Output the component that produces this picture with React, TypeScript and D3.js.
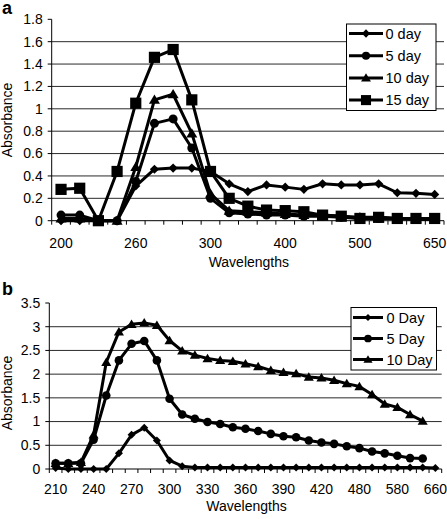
import React from 'react';
import * as d3 from 'd3';

// ---------- Panel a data ----------
const categoriesA = [200, 215, 230, 245, 260, 270, 280, 290, 300, 325, 350, 375, 400, 425, 450, 475, 500, 540, 580, 620, 650];
const day0A = [0.0, 0.0, 0.0, 0.0, 0.31, 0.46, 0.47, 0.47, 0.44, 0.33, 0.26, 0.32, 0.3, 0.28, 0.33, 0.32, 0.32, 0.33, 0.25, 0.245, 0.235];
const day5A = [0.05, 0.05, 0.0, 0.0, 0.35, 0.87, 0.91, 0.65, 0.2, 0.07, 0.06, 0.05, 0.05, 0.04, 0.04, 0.03, 0.02, 0.02, 0.02, 0.01, 0.01];
const day10A = [0.02, 0.02, 0.0, 0.0, 0.48, 1.08, 1.13, 0.78, 0.24, 0.09, 0.08, 0.07, 0.06, 0.05, 0.05, 0.04, 0.03, 0.03, 0.02, 0.02, 0.02];
const day15A = [0.28, 0.29, 0.0, 0.44, 1.05, 1.46, 1.53, 1.08, 0.44, 0.2, 0.13, 0.095, 0.09, 0.08, 0.05, 0.04, 0.02, 0.03, 0.02, 0.02, 0.02];
const namesA = ['0 day', '5 day', '10 day', '15 day'];
const yTicksA = [0, 0.2, 0.4, 0.6, 0.8, 1, 1.2, 1.4, 1.6, 1.8];

// ---------- Panel b data ----------
const categoriesB = [210, 220, 230, 240, 250, 260, 270, 280, 290, 300, 310, 320, 330, 340, 350, 360, 370, 380, 390, 400, 410, 420, 440, 460, 480, 520, 550, 580, 610, 640, 660];
const day0B = [0.02, 0.0, 0.0, 0.0, 0.0, 0.33, 0.72, 0.87, 0.6, 0.18, 0.06, 0.03, 0.03, 0.03, 0.03, 0.03, 0.03, 0.03, 0.03, 0.03, 0.03, 0.03, 0.03, 0.03, 0.03, 0.03, 0.03, 0.03, 0.03, 0.03, 0.02];
const day5B = [0.12, 0.12, 0.12, 0.62, 1.55, 2.29, 2.64, 2.7, 2.29, 1.48, 1.15, 1.06, 0.99, 0.95, 0.88, 0.85, 0.8, 0.74, 0.69, 0.67, 0.6, 0.56, 0.53, 0.48, 0.44, 0.37, 0.33, 0.28, 0.23, 0.22];
const day10B = [0.12, 0.12, 0.14, 0.72, 2.25, 2.89, 3.05, 3.08, 3.03, 2.71, 2.49, 2.4, 2.33, 2.29, 2.27, 2.22, 2.16, 2.08, 2.04, 2.01, 1.94, 1.92, 1.87, 1.8, 1.74, 1.57, 1.37, 1.3, 1.15, 1.01];
const namesB = ['0 Day', '5 Day', '10 Day'];
const yTicksB = [0, 0.5, 1, 1.5, 2, 2.5, 3, 3.5];

const FONT = '"Liberation Sans", Arial, Helvetica, sans-serif';

type Marker = 'diamond' | 'circle' | 'triangle' | 'square';

function markerPath(type: Marker, r: number): string {
  if (type === 'diamond') return `M0,${-r}L${r},0L0,${r}L${-r},0Z`;
  if (type === 'square') return `M${-r},${-r}H${r}V${r}H${-r}Z`;
  if (type === 'triangle') return `M0,${-r * 1.05}L${r * 1.1},${r * 0.8}L${-r * 1.1},${r * 0.8}Z`;
  return d3.symbol().type(d3.symbolCircle).size(Math.PI * r * r)()!;
}

interface PanelProps {
  letter: string;
  letterY: number;
  left: number;
  right: number;
  top: number;
  bottom: number;
  yTicks: number[];
  categories: number[];
  labelEvery: number;
  series: number[][];
  names: string[];
  markers: Marker[];
  markerR: Record<Marker, number>;
  xLabelDy: number;
  titleY: number;
  absY: number;
  legend: { x0: number; x1: number; y0: number; y1: number; rowY0: number; rowDy: number; lineX0: number; lineX1: number; textX: number };
}

function Panel(p: PanelProps) {
  const n = p.categories.length;
  const x = d3.scaleLinear().domain([-0.5, n - 0.5]).range([p.left, p.right]);
  const yMax = p.yTicks[p.yTicks.length - 1];
  const y = d3.scaleLinear().domain([0, yMax]).range([p.bottom, p.top]);
  const line = d3.line<number>().x((_, i) => x(i)).y((v) => y(v));
  const boundaries = d3.range(n + 1).map((k) => k - 0.5);
  const fmt = (v: number) => String(v);
  const L = p.legend;
  return (
    <g>
      <text x={2} y={p.letterY} fontFamily={FONT} fontWeight="bold" fontSize={18}>{p.letter}</text>
      {/* gridlines */}
      {p.yTicks.filter((t) => t > 0 && t < yMax).map((t) => (
        <line key={'g' + t} x1={p.left} x2={p.right} y1={y(t)} y2={y(t)} stroke="#2a2a2a" strokeWidth={1} />
      ))}
      {/* y axis */}
      <line x1={p.left} x2={p.left} y1={y(0)} y2={y(yMax)} stroke="#000" strokeWidth={1} />
      {p.yTicks.map((t) => (
        <g key={'yt' + t}>
          <line x1={p.left - 4} x2={p.left} y1={y(t)} y2={y(t)} stroke="#000" />
          <text x={p.left - 9} y={y(t)} dy="0.35em" textAnchor="end" fontFamily={FONT} fontSize={14}>{fmt(t)}</text>
        </g>
      ))}
      {/* x axis */}
      <line x1={p.left} x2={p.right} y1={y(0)} y2={y(0)} stroke="#000" strokeWidth={1} />
      {boundaries.map((b) => (
        <line key={'xt' + b} x1={x(b)} x2={x(b)} y1={y(0)} y2={y(0) + 4} stroke="#000" />
      ))}
      {p.categories.map((c, i) => (i % p.labelEvery === 0 ? (
        <text key={'xl' + i} x={x(i)} y={y(0) + p.xLabelDy} dy="0.35em" textAnchor="middle" fontFamily={FONT} fontSize={14}>{c}</text>
      ) : null))}
      <text x={(p.left + p.right) / 2 + 1} y={p.titleY} dy="0.35em" textAnchor="middle" fontFamily={FONT} fontSize={14}>Wavelengths</text>
      <text transform={`translate(12,${p.absY}) rotate(-90)`} textAnchor="middle" fontFamily={FONT} fontSize={14}>Absorbance</text>
      {/* series */}
      {p.series.map((s, si) => (
        <g key={'s' + si}>
          <path d={line(s) ?? ''} fill="none" stroke="#000" strokeWidth={3} strokeLinejoin="round" />
          {s.map((v, i) => (
            <path key={i} transform={`translate(${x(i)},${y(v)})`} d={markerPath(p.markers[si], p.markerR[p.markers[si]])} fill="#000" />
          ))}
        </g>
      ))}
      {/* legend */}
      <rect x={L.x0} y={L.y0} width={L.x1 - L.x0} height={L.y1 - L.y0} fill="#fff" stroke="#000" strokeWidth={1} />
      {p.names.map((nm, i) => {
        const ly = L.rowY0 + i * L.rowDy;
        const mx = (L.lineX0 + L.lineX1) / 2;
        return (
          <g key={'lg' + i}>
            <line x1={L.lineX0} x2={L.lineX1} y1={ly} y2={ly} stroke="#000" strokeWidth={3} />
            <path transform={`translate(${mx},${ly})`} d={markerPath(p.markers[i], p.markerR[p.markers[i]] * 0.9)} fill="#000" />
            <text x={L.textX} y={ly} dy="0.35em" fontFamily={FONT} fontSize={14.5}>{nm}</text>
          </g>
        );
      })}
    </g>
  );
}

export default function App() {
  return (
    <svg width={447} height={519} viewBox="0 0 447 519" style={{ position: 'absolute', left: 0, top: 0, background: '#fff' }}>
      <rect width={447} height={519} fill="#fff" />
      <Panel
        letter="a"
        letterY={14}
        left={51.7}
        right={444}
        top={19.3}
        bottom={220.7}
        yTicks={yTicksA}
        categories={categoriesA}
        labelEvery={4}
        series={[day0A, day5A, day10A, day15A]}
        names={namesA}
        markers={['diamond', 'circle', 'triangle', 'square']}
        markerR={{ diamond: 4.6, circle: 4.5, triangle: 5, square: 5.6 }}
        xLabelDy={22.5}
        titleY={262}
        absY={120}
        legend={{ x0: 346.5, x1: 436, y0: 24, y1: 110.5, rowY0: 33.5, rowDy: 22.2, lineX0: 349, lineX1: 383, textX: 385.5 }}
      />
      <Panel
        letter="b"
        letterY={295}
        left={49.3}
        right={441.7}
        top={303}
        bottom={469}
        yTicks={yTicksB}
        categories={categoriesB}
        labelEvery={3}
        series={[day0B, day5B, day10B]}
        names={namesB}
        markers={['diamond', 'circle', 'triangle']}
        markerR={{ diamond: 4, circle: 4.3, triangle: 4.6, square: 5 }}
        xLabelDy={20}
        titleY={506}
        absY={393}
        legend={{ x0: 351, x1: 436.5, y0: 307.5, y1: 370, rowY0: 317.5, rowDy: 21, lineX0: 353, lineX1: 383, textX: 386.5 }}
      />
    </svg>
  );
}
